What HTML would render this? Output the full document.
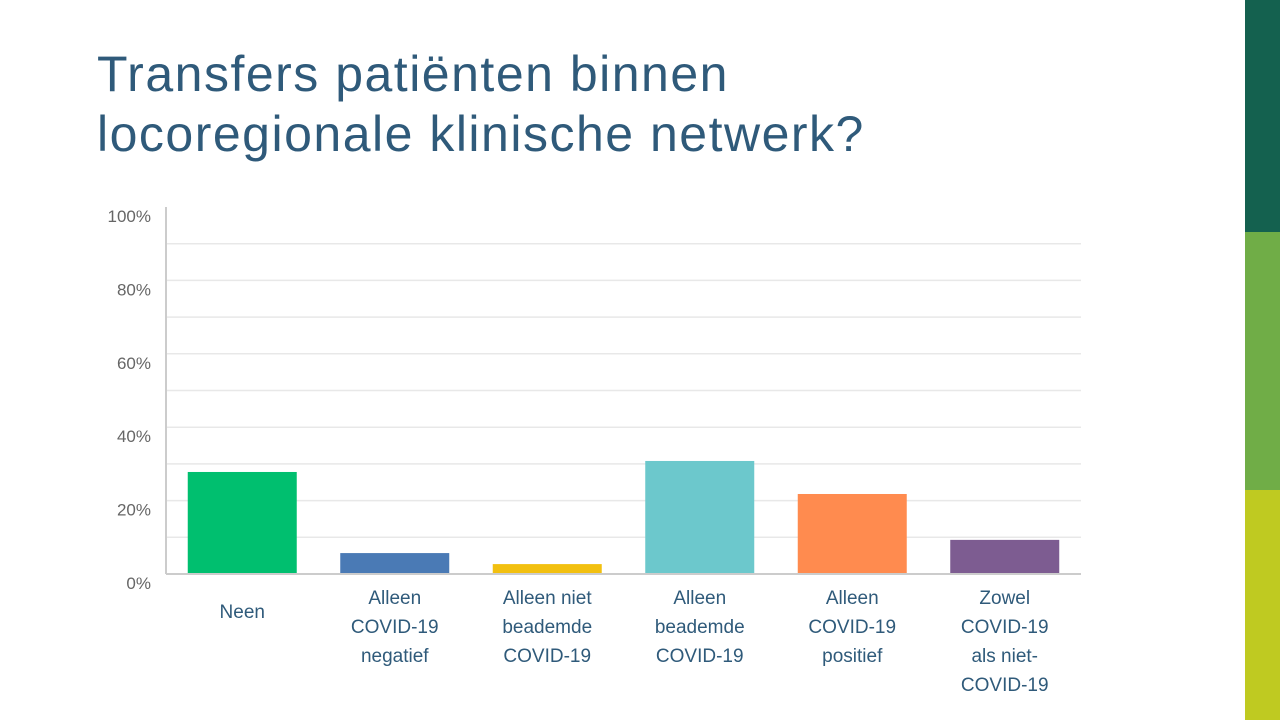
<!DOCTYPE html>
<html><head><meta charset="utf-8"><style>
body{margin:0;width:1280px;height:720px;background:#fff;position:relative;overflow:hidden;font-family:"Liberation Sans",sans-serif}
h1{position:absolute;left:97px;top:44px;margin:0;font-weight:normal;font-size:50px;line-height:60px;color:#2f5a7a;letter-spacing:1.5px}
.stripe{position:absolute;left:1245px;width:35px}
</style></head><body>
<h1>Transfers patiënten binnen<br>locoregionale klinische netwerk?</h1>
<div class="stripe" style="top:0;height:232px;background:#14614f"></div>
<div class="stripe" style="top:232px;height:258px;background:#70ad47"></div>
<div class="stripe" style="top:490px;height:230px;background:#bfca21"></div>
<svg id="chart" width="1280" height="720" style="position:absolute;left:0;top:0"></svg>
<script>
const categories=[["Neen"],["Alleen","COVID-19","negatief"],["Alleen niet","beademde","COVID-19"],["Alleen","beademde","COVID-19"],["Alleen","COVID-19","positief"],["Zowel","COVID-19","als niet-","COVID-19"]];
const values=[27.8,5.7,2.7,30.8,21.8,9.3];
const colors=["#00bf6f","#4a7ab5","#f2c010","#6cc8cc","#ff8b4f","#7d5c91"];
const tickLabels=["0%","20%","40%","60%","80%","100%"];
const tickValues=[0,20,40,60,80,100];
const ns="http://www.w3.org/2000/svg",svg=document.getElementById("chart");
const y0=574,yTop=207,xL=166,xR=1081;
const y=v=>y0-(v/100)*(y0-yTop);
const slot=(xR-xL)/categories.length;
const x=i=>xL+slot*i+slot/2;
function mk(t,a){const e=document.createElementNS(ns,t);for(const k in a)e.setAttribute(k,a[k]);svg.appendChild(e);return e;}
for(let v=10;v<100;v+=10){const g=mk("line",{x1:xL,x2:xR,y1:y(v),y2:y(v),stroke:"#e8e8e8","stroke-width":1.5});

}
tickValues.forEach((v,i)=>{const t=mk("text",{x:151,y:y(v)+15,"text-anchor":"end","font-size":17,fill:"#666"});t.textContent=tickLabels[i];

});
values.forEach((v,i)=>{const b=mk("rect",{x:x(i)-54.5,y:y(v),width:109,height:y0-y(v),fill:colors[i]});


const t=mk("text",{x:x(i),"text-anchor":"middle","font-size":19,fill:"#2f5a7a"});


const lines=categories[i];const start=lines.length===1?618:604;
lines.forEach((l,j)=>{const s=document.createElementNS(ns,"tspan");s.setAttribute("x",x(i));s.setAttribute("y",start+j*29);s.textContent=l;t.appendChild(s);});});
const ax=mk("line",{x1:xL,x2:xL,y1:yTop,y2:y0,stroke:"#ccc","stroke-width":2});


const bx=mk("line",{x1:xL,x2:xR,y1:y0,y2:y0,stroke:"#ccc","stroke-width":2});


</script>
</body></html>
